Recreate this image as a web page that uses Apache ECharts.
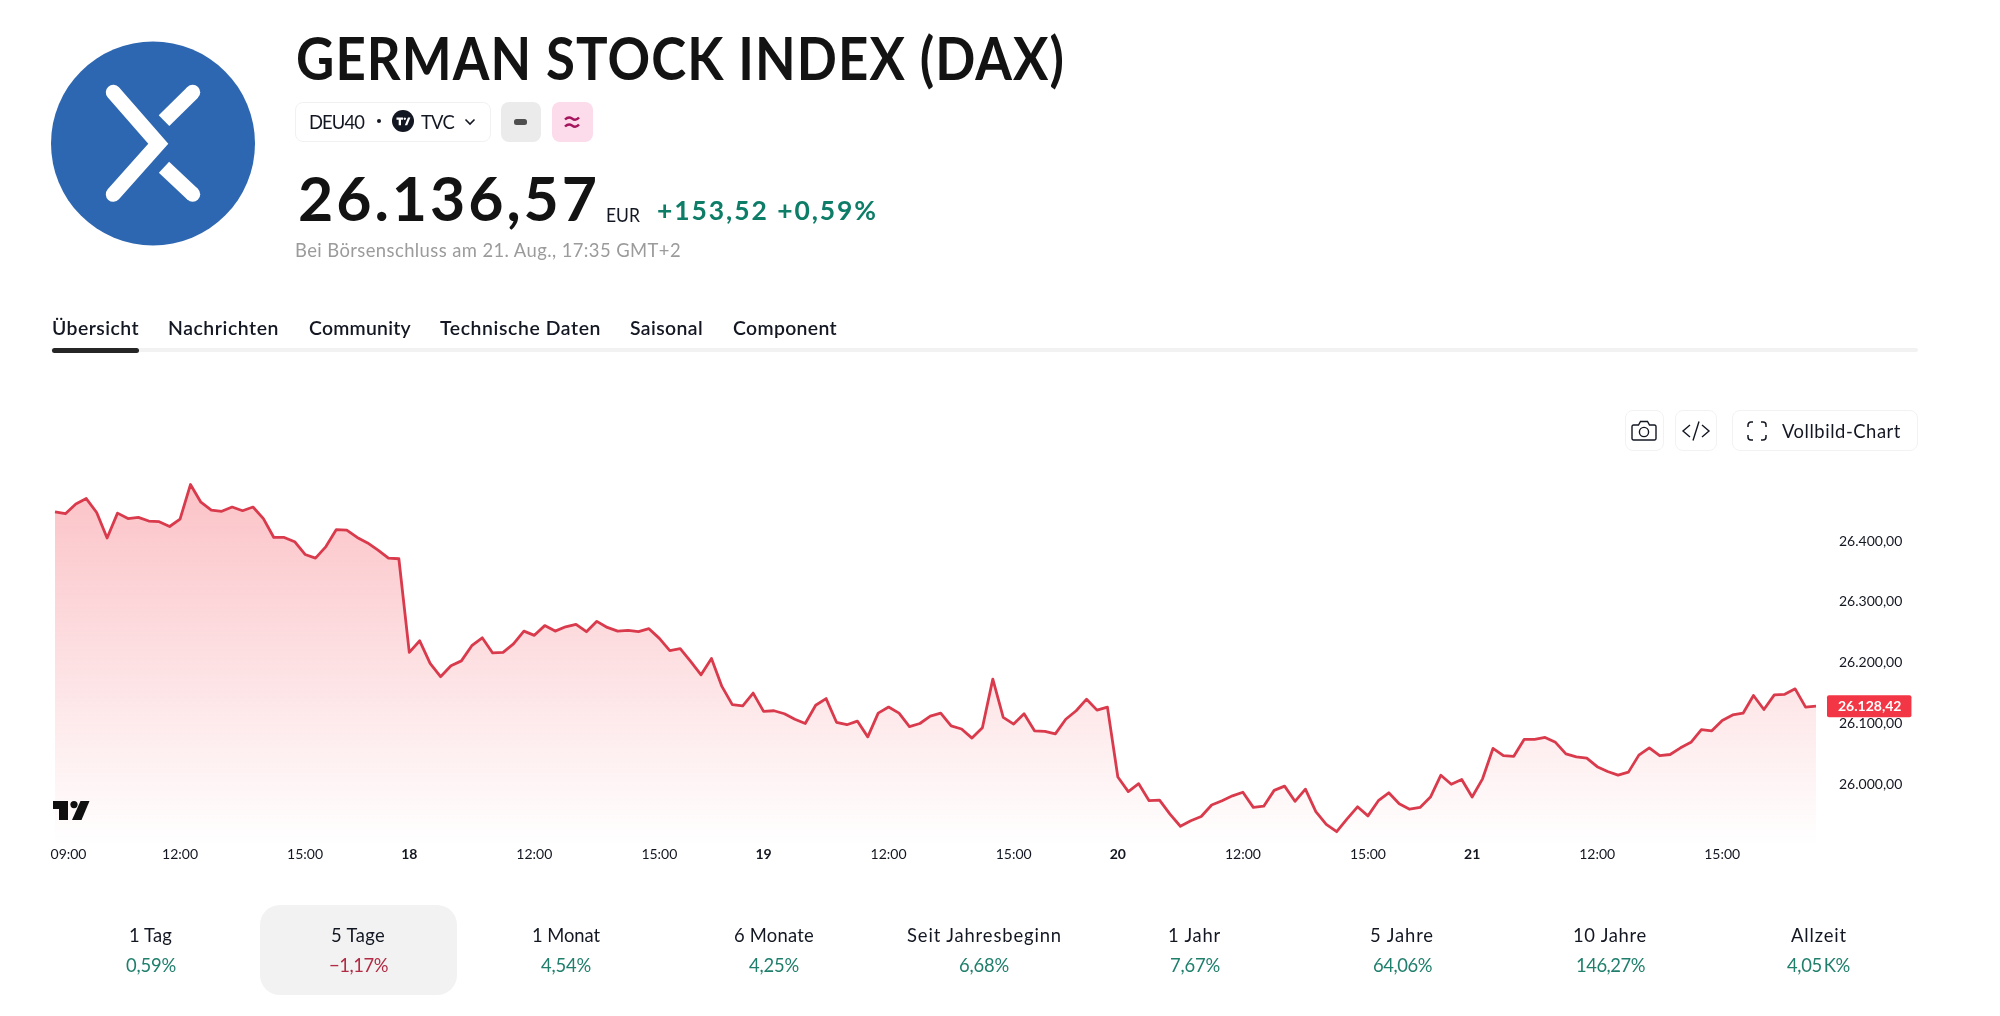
<!DOCTYPE html>
<html lang="de">
<head>
<meta charset="utf-8">
<title>German Stock Index (DAX)</title>
<script src="https://cdn.jsdelivr.net/npm/echarts@6/dist/echarts.min.js"></script>
<style>
html,body{margin:0;padding:0;background:#fff;width:2000px;height:1016px;overflow:hidden;font-family:Lato,"Open Sans",sans-serif;}
#chart{position:absolute;left:0;top:0;width:2000px;height:1016px;}
.t{position:absolute;white-space:pre;line-height:1;transform-origin:0 50%;z-index:2;}
.box{position:absolute;box-sizing:border-box;z-index:1;}
svg{position:absolute;z-index:2;overflow:visible;}
</style>
</head>
<body>
<div id="chart"></div>
<div id="page"></div>
<script>
// ---- values ----
const day17 = [26448,26445,26461,26470,26447,26405,26446,26437,26439,26433,26432,26424,26436,26493,26464,26451,26449,26456,26450,26456,26437,26406,26406,26399,26378,26372,26391,26419,26418,26406,26397,26385,26372,26371];
const day18 = [26217,26236,26199,26177,26195,26203,26228,26241,26216,26217,26231,26252,26245,26261,26252,26259,26263,26251,26268,26258,26252,26253,26251,26256,26240,26220,26223,26202,26180,26207,26161,26131,26129,26150];
const day19 = [26120,26121,26116,26107,26100,26130,26141,26102,26098,26104,26078,26117,26127,26117,26095,26100,26112,26117,26096,26091,26076,26093,26173,26110,26099,26116,26088,26087,26083,26107,26121,26140,26122,26127];
const day20 = [26012,25988,26001,25973,25974,25951,25931,25940,25947,25966,25973,25981,25987,25962,25964,25990,25997,25972,25992,25955,25934,25922,25943,25963,25948,25973,25986,25968,25959,25962,25979,26015,26000,26008];
const day21 = [25979,26009,26059,26047,26046,26074,26074,26077,26069,26050,26045,26043,26029,26021,26015,26020,26048,26060,26047,26049,26060,26069,26090,26088,26105,26114,26117,26146,26123,26147,26148,26157,26127,26128.42];
const dayNames = ['17','18','19','20','21'];
const sessionTimes = ['09:00','09:15','09:30','09:45','10:00','10:15','10:30','10:45','11:00','11:15','11:30','11:45','12:00','12:15','12:30','12:45','13:00','13:15','13:30','13:45','14:00','14:15','14:30','14:45','15:00','15:15','15:30','15:45','16:00','16:15','16:30','16:45','17:00','17:15'];
const hourTicks = ['12:00','15:00'];
const yTicks = [26000,26100,26200,26300,26400];
const lastPrice = 26128.42;
const periodNames = ['1 Tag','5 Tage','1 Monat','6 Monate','Seit Jahresbeginn','1 Jahr','5 Jahre','10 Jahre','Allzeit'];
const periodValues = ['0,59%','\u22121,17%','4,54%','4,25%','6,68%','7,67%','64,06%','146,27%','4,05\u2009K%'];
const tabNames = ['Übersicht','Nachrichten','Community','Technische Daten','Saisonal','Component'];

// ---- chart ----
const categories = [], tickText = {};
[day17,day18,day19,day20,day21].forEach((d,di)=>d.forEach((_,k)=>{
  const idx = categories.length, time = sessionTimes[k];
  categories.push(dayNames[di]+'. Aug '+time);
  if (k===0) tickText[idx] = di===0 ? time : dayNames[di];
  else if (hourTicks.includes(time)) tickText[idx] = time;
}));
const prices = [].concat(day17,day18,day19,day20,day21);
const fmt = v => v.toFixed(2).replace('.',',').replace(/\B(?=(\d{3})+(?!\d))/g,'.');

const chart = echarts.init(document.getElementById('chart'));
chart.setOption({
  animation:false,
  backgroundColor:'transparent',
  textStyle:{fontFamily:'Lato'},
  grid:{left:55,right:184,top:480.3,height:364.8,containLabel:false},
  xAxis:{
    type:'category',boundaryGap:false,data:categories,
    axisLine:{show:false},axisTick:{show:false},splitLine:{show:false},
    axisLabel:{
      interval:i=>tickText[i]!==undefined,
      hideOverlap:false,margin:2,
      color:'#131722',fontSize:14,fontFamily:'Lato',
      formatter:(v,i)=>{const s=tickText[i]||''; return i===0?'{f|'+s+'}':(s.length===2?'{d|'+s+'}':s);},
      rich:{
        d:{fontWeight:'bold',fontSize:14,color:'#131722',fontFamily:'Lato'},
        f:{fontSize:14,color:'#131722',fontFamily:'Lato',padding:[0,0,0,27]}
      }
    }
  },
  yAxis:{
    type:'value',position:'right',min:25900,max:26500,interval:100,
    axisLine:{show:false},axisTick:{show:false},splitLine:{show:false},
    axisLabel:{margin:23,color:'#131722',fontSize:14,fontFamily:'Lato',
      formatter:v=>yTicks.includes(v)?fmt(v):''}
  },
  series:[{
    type:'line',data:prices,symbol:'none',smooth:false,silent:true,clip:false,
    lineStyle:{color:'#d93a4c',width:2.8,join:'round'},
    areaStyle:{origin:'start',opacity:1,color:new echarts.graphic.LinearGradient(0,0,0,1,[
      {offset:0,color:'rgba(242,54,69,0.30)'},
      {offset:1,color:'rgba(242,54,69,0.0)'}])},
    markLine:{
      silent:true,symbol:'none',animation:false,
      lineStyle:{color:'rgba(0,0,0,0)',width:0},
      data:[{yAxis:lastPrice}],
      label:{show:true,position:'end',distance:11,formatter:()=>fmt(lastPrice),
        color:'#fff',backgroundColor:'#f23645',fontSize:14,fontFamily:'Lato',fontWeight:'bold',
        padding:[4,10,4,11],borderRadius:2}
    }
  }]
});

// ---- page furniture around the chart ----
const page = document.getElementById('page');
function box(x,y,w,h,css){const d=document.createElement('div');d.className='box';
  d.style.cssText=`left:${x}px;top:${y}px;width:${w}px;height:${h}px;${css}`;page.appendChild(d);return d;}
function text(s,x,cy,size,weight,color,width,center,sx=0.92){
  const d=document.createElement('div');d.className='t';d.textContent=s;
  d.style.cssText+=`left:${x}px;top:${cy}px;font-size:${size}px;font-weight:${weight};color:${color};`;
  page.appendChild(d);
  const w0=d.getBoundingClientRect().width;
  const target=width?width/sx:w0;
  d.style.letterSpacing=((target-w0)/Math.max(1,s.length))+'px';
  d.style.transform=`translateY(-50%) scaleX(${sx})`;
  if(center){d.style.left=(x-d.getBoundingClientRect().width/2)+'px';}
  return d;
}
function svg(x,y,w,h,inner){const n=document.createElementNS('http://www.w3.org/2000/svg','svg');
  n.setAttribute('width',w);n.setAttribute('height',h);n.setAttribute('viewBox',`0 0 ${w} ${h}`);
  n.style.left=x+'px';n.style.top=y+'px';n.innerHTML=inner;page.appendChild(n);}

// logo
svg(51,41,204,205,`<circle cx="102" cy="102.5" r="102" fill="#2e67b1"/>
 <g fill="none" stroke="#fff" stroke-width="15">
 <path d="M62.3 51.3L107.3 102.7L62.3 153.3" stroke-linecap="round" stroke-linejoin="miter"/>
 <path d="M141.7 51.3L113 79.7"/><path d="M113 126.3L141.7 153.3"/></g>
 <circle cx="141.7" cy="51.3" r="7.5" fill="#fff"/><circle cx="141.7" cy="153.3" r="7.5" fill="#fff"/>`);
text('GERMAN STOCK INDEX (DAX)',296,57,60,700,'#131313',769,false,0.88);

// symbol row
box(295,102,196,40,'border:1px solid #f1f1f1;border-radius:8px;');
text('DEU40',309,121,20,400,'#131722',55);
box(377,119,4,4,'background:#131722;border-radius:50%;');
svg(392,110,22,22,`<circle cx="11" cy="11" r="11" fill="#131722"/><path d="M4.5 7.5h6.5v2.2h-2v5.5h-2.3v-5.5h-2.2z M12.8 7.5a1.2 1.2 0 1 0 .01 0z M16 7.5h2.4l-3.2 7.7h-2.4z" fill="#fff"/>`);
text('TVC',421,121,20,400,'#131722',33);
svg(464,118,12,8,`<path d="M1.5 1.5L6 6L10.5 1.5" fill="none" stroke="#131722" stroke-width="1.6"/>`);
box(501,102,40,40,'background:#ebebeb;border-radius:8px;');
box(514,119,13,6,'background:#4f4f4f;border-radius:2.5px;z-index:2;');
box(552,102,41,40,'background:#fcdcea;border-radius:8px;');
svg(564,115,16,14,`<path d="M1 4.5C4 1.5 6 2 8 3.5S12.5 5.5 15 2.5 M1 11.5C4 8.5 6 9 8 10.5S12.5 12.5 15 9.5" fill="none" stroke="#a5155d" stroke-width="2.4"/>`);

// price row
text('26.136,57',298,197,62,700,'#131313',302,false,0.98);
text('EUR',606,214,19,400,'#131722',34);
text('+153,52 +0,59%',657,209,27,700,'#0d7d68',221,false,0.98);
text('Bei Börsenschluss am 21. Aug., 17:35 GMT+2',295,249,19,400,'#9b9b9b',386,false,0.97);

// tabs
const tabSpans=[[52,87],[168,111],[309,102],[440,161],[630,73],[733,104]];
tabNames.forEach((n,i)=>text(n,tabSpans[i][0],326.5,20,600,'#131722',tabSpans[i][1],false,0.97));
box(51,348,1867,4,'background:#f2f2f2;border-radius:2px;');
box(52,348,87,5,'background:#262626;border-radius:3px;z-index:2;');

// chart tool buttons
const btn='border:1px solid #f2f2f2;border-radius:8px;';
box(1625,410,39,41,btn);box(1675,410,42,41,btn);box(1732,410,186,41,btn);
svg(1631,420,26,22,`<path d="M2.5 5h5l2-3.5h7l2 3.5h5a1.5 1.5 0 0 1 1.5 1.5v12a1.5 1.5 0 0 1-1.5 1.5h-21a1.5 1.5 0 0 1-1.5-1.5v-12a1.5 1.5 0 0 1 1.5-1.5z" fill="none" stroke="#131722" stroke-width="1.4"/><circle cx="13" cy="12" r="4.6" fill="none" stroke="#131722" stroke-width="1.4"/>`);
svg(1681,420,30,22,`<path d="M9 5L2 11L9 17 M21 5L28 11L21 17 M18 1.5L12 20.5" fill="none" stroke="#131722" stroke-width="1.4"/>`);
svg(1747,421,21,20,`<path d="M1 6V4a3 3 0 0 1 3-3h2 M14 1h2a3 3 0 0 1 3 3v2 M19 14v2a3 3 0 0 1-3 3h-2 M6 19h-2a3 3 0 0 1-3-3v-2" fill="none" stroke="#131722" stroke-width="1.5"/>`);
text('Vollbild-Chart',1782,430,20,400,'#131722',119);

// TradingView mark over the chart
svg(53,801,37,19,`<path d="M0 0h15v19h-9v-11h-6z" fill="#0f0f0f"/><circle cx="21" cy="3.6" r="3.6" fill="#0f0f0f"/><path d="M27.5 0h9l-8 19h-9.5z" fill="#0f0f0f"/>`);

// period row
box(260,905,197,90,'background:#f2f2f2;border-radius:20px;');
const periodX=[150.5,358.4,566,774,984,1194.5,1402,1610,1819];
const nameW=[43,54,68,80,155,53,64,74,56];
const valueW=[50,59,50,50,50,50,59,69,63];
periodNames.forEach((n,i)=>{
  text(n,periodX[i],934,20,400,'#131722',nameW[i],true);
  text(periodValues[i],periodX[i],964,20,400,periodValues[i][0]==='\u2212'?'#b22a43':'#1f7f6c',valueW[i],true);
});
</script>
</body>
</html>
